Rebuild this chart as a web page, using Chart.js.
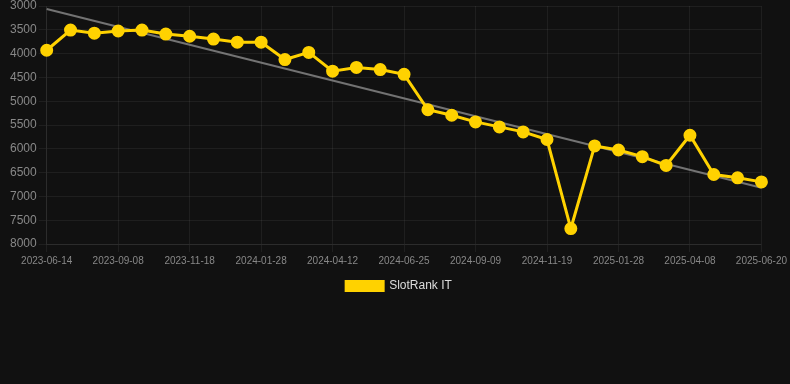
<!DOCTYPE html>
<html>
<head>
<meta charset="utf-8">
<script src="https://cdn.jsdelivr.net/npm/chart.js@4.4.1/dist/chart.umd.min.js"></script>
<style>
    html, body { margin: 0; padding: 0; background: #111111; overflow: hidden; }
    #wrap { width: 790px; height: 305px; position: relative; margin-top: -3px; }
</style>
</head>
<body>
<div id="wrap"><canvas id="rank_chart"></canvas></div>
<script>
const dates = [
    '2023-06-14', '2023-07-12', '2023-08-10', '2023-09-08', '2023-10-02', '2023-10-25',
    '2023-11-18', '2023-12-12', '2024-01-04', '2024-01-28', '2024-02-22', '2024-03-18',
    '2024-04-12', '2024-05-06', '2024-05-31', '2024-06-25', '2024-07-20', '2024-08-14',
    '2024-09-09', '2024-10-02', '2024-10-26', '2024-11-19', '2024-12-12', '2025-01-05',
    '2025-01-28', '2025-02-20', '2025-03-15', '2025-04-08', '2025-05-02', '2025-05-26',
    '2025-06-20'
];

const rankIT = [
    3930, 3505, 3570, 3525, 3505, 3590,
    3635, 3695, 3760, 3760, 4125, 3975,
    4370, 4290, 4335, 4435, 5180, 5295,
    5435, 5540, 5645, 5805, 7675, 5940,
    6025, 6165, 6350, 5715, 6540, 6610,
    6695
];

// trend line: only the two ends are given, the line spans the gap
const trend = Array(dates.length).fill(null);
trend[0] = 3065;
trend[dates.length - 1] = 6820;

const yTicks = [3000, 3500, 4000, 4500, 5000, 5500, 6000, 6500, 7000, 7500, 8000];

const gridColor = 'rgba(255,255,255,0.06)';
const yellow = '#FFD200';

let rank_chart = new Chart(document.getElementById('rank_chart'), {
    type: 'line',
    data: {
        labels: dates,
        datasets: [
            {
                label: 'SlotRank IT',
                data: rankIT,
                borderColor: yellow,
                backgroundColor: yellow,
                borderWidth: 3,
                pointRadius: 5,
                pointHoverRadius: 6,
                tension: 0
            },
            {
                label: 'trend',
                data: trend,
                spanGaps: true,
                borderColor: 'rgba(140,140,140,0.8)',
                borderWidth: 2,
                pointRadius: 0,
                tension: 0
            }
        ]
    },
    options: {
        responsive: true,
        maintainAspectRatio: false,
        animation: false,
        layout: { padding: { left: 8, right: 0, top: 0, bottom: 0 } },
        plugins: {
            legend: {
                position: 'bottom',
                labels: {
                    color: '#dddddd',
                    font: { family: 'Liberation Sans, Arial, sans-serif', size: 12 },
                    boxWidth: 37,
                    boxHeight: 9,
                    filter: (item) => item.text !== 'trend'
                }
            },
            tooltip: { enabled: false }
        },
        scales: {
            x: {
                grid: { color: gridColor, tickLength: 8 },
                border: { color: gridColor },
                ticks: {
                    color: '#888888',
                    font: { family: 'Liberation Sans, Arial, sans-serif', size: 10 },
                    maxRotation: 0,
                    autoSkip: true
                }
            },
            y: {
                reverse: true,
                min: 3000,
                max: 8000,
                afterBuildTicks: (scale) => {
                    scale.ticks = yTicks.map(v => ({ value: v }));
                },
                grid: { color: gridColor, tickLength: 8 },
                border: { color: gridColor },
                ticks: {
                    color: '#888888',
                    padding: 2,
                    callback: (v) => String(v),
                    font: { family: 'Liberation Sans, Arial, sans-serif', size: 12, lineHeight: 1 }
                }
            }
        }
    }
});
</script>
</body>
</html>
